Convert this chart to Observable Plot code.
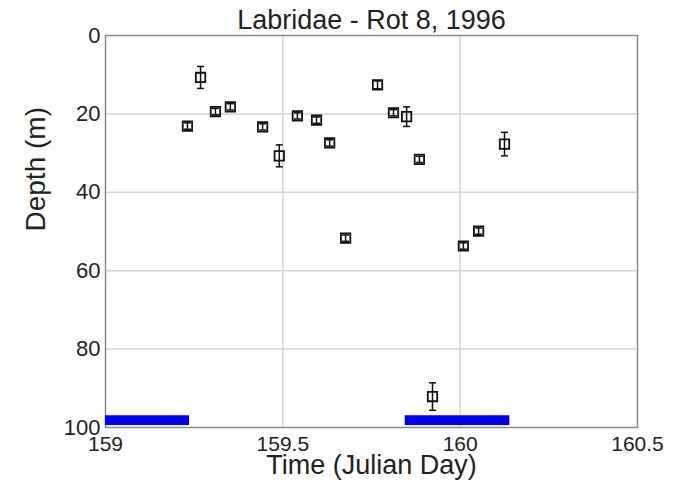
<!DOCTYPE html>
<html>
<head>
<meta charset="utf-8">
<script src="https://cdn.jsdelivr.net/npm/d3@7"></script>
<script src="https://cdn.jsdelivr.net/npm/@observablehq/plot@0.6"></script>
<style>
  html, body { margin: 0; padding: 0; background: #fff; }
  #chart svg { display: block; }
</style>
</head>
<body>
<div id="chart"></div>
<script>
// ---- data ----
const titleText = "Labridae - Rot 8, 1996";
const xLabel = "Time (Julian Day)";
const yLabel = "Depth (m)";

const times  = [159.231, 159.268, 159.310, 159.352, 159.443, 159.490, 159.541, 159.595, 159.632,
                159.677, 159.767, 159.812, 159.849, 159.885, 159.922, 160.009, 160.052, 160.125];
const depths = [23.1, 10.7, 19.4, 18.2, 23.3, 30.7, 20.5, 21.6, 27.4,
                51.7, 12.6, 19.7, 20.7, 31.6, 92.1, 53.7, 49.9, 27.7];
const errors = [0.8, 2.8, 0.8, 0.8, 0.8, 2.8, 0.8, 0.8, 0.8,
                0.8, 1.0, 0.8, 2.5, 0.8, 3.5, 0.8, 0.8, 3.0];

// night periods (blue bars along the bottom)
const nightStart = [159.0, 159.845];
const nightEnd   = [159.237, 160.14];
const nightTop = 97.0;
const nightBottom = 99.5;

const xTicks = [159, 159.5, 160, 160.5];
const xTickLabels = ["159", "159.5", "160", "160.5"];
const yTicks = [0, 20, 40, 60, 80, 100];
const xGrid = [159.5, 160];
const yGrid = [20, 40, 60, 80];

// ---- build tables ----
const points = times.map((t, i) => ({t, d: depths[i], lo: depths[i] - errors[i], hi: depths[i] + errors[i]}));
const nights = nightStart.map((s, i) => ({x1: s, x2: nightEnd[i], y1: nightTop, y2: nightBottom}));

const capSymbol = {
  draw(context, size) {
    const r = Math.sqrt(size / Math.PI);
    context.moveTo(-r, 0);
    context.lineTo(r, 0);
  }
};

const chart = Plot.plot({
  width: 677,
  height: 484,
  marginLeft: 105,
  marginRight: 40,
  marginTop: 35,
  marginBottom: 57,
  style: {fontFamily: "'Liberation Sans', Arial, Helvetica, sans-serif", fontSize: "22px", color: "#222", background: "#fff"},
  x: {domain: [159, 160.5]},
  y: {domain: [0, 100], reverse: true},
  marks: [
    Plot.gridX(xGrid, {stroke: "#d4d4d4", strokeOpacity: 1, strokeWidth: 1.5}),
    Plot.gridY(yGrid, {stroke: "#d4d4d4", strokeOpacity: 1, strokeWidth: 1.5}),
    Plot.frame({stroke: "#8a8a8a", strokeWidth: 1.5}),
    Plot.axisX(xTicks, {tickSize: 0, tickPadding: 9, tickFormat: (d, i) => xTickLabels[i], label: null, fontSize: 21}),
    Plot.axisY(yTicks, {tickSize: 0, tickPadding: 5, label: null, fontSize: 22}),
    Plot.rect(nights, {x1: "x1", x2: "x2", y1: "y1", y2: "y2", fill: "#0000ff"}),
    Plot.ruleX(points, {x: "t", y1: "lo", y2: "hi", stroke: "#111", strokeWidth: 1.5}),
    Plot.dot(points, {x: "t", y: "lo", symbol: capSymbol, r: 3.5, stroke: "#111", strokeWidth: 1.5}),
    Plot.dot(points, {x: "t", y: "hi", symbol: capSymbol, r: 3.5, stroke: "#111", strokeWidth: 1.5}),
    Plot.dot(points, {x: "t", y: "d", symbol: "square", r: 5.3, stroke: "#111", strokeWidth: 1.8, fill: "none"}),
    Plot.text([titleText], {frameAnchor: "top", dy: -7, lineAnchor: "bottom", fontSize: 27, fill: "#222"}),
    Plot.text([xLabel], {frameAnchor: "bottom", dy: 46, fontSize: 27, fill: "#222"}),
    Plot.text([yLabel], {frameAnchor: "left", dx: -69, rotate: -90, fontSize: 28, fill: "#222"})
  ]
});
document.getElementById("chart").appendChild(chart);
</script>
</body>
</html>
